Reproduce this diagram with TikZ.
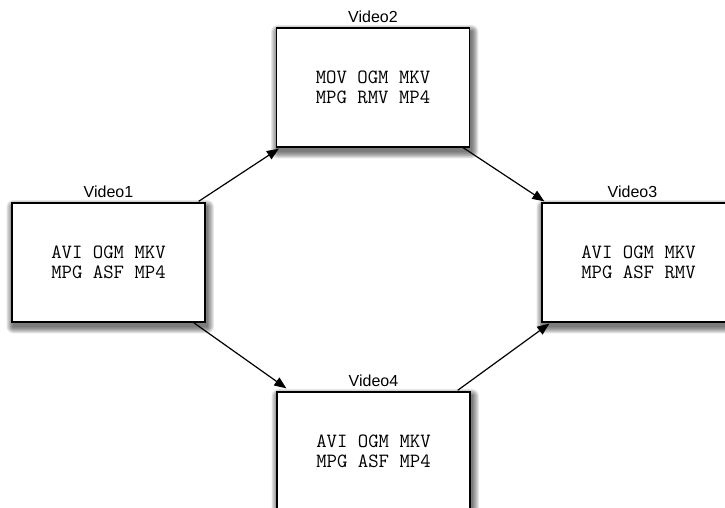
\documentclass[tikz,border=0pt]{standalone}
\usepackage{fontspec}
\setmainfont{Liberation Sans}
\usetikzlibrary{calc,arrows.meta,backgrounds}
\tikzset{
  vbox/.style={draw=black, line width=1.3pt, fill=white, minimum width=193pt, minimum height=119pt,
    inner sep=0pt, align=center, font=\ttfamily\fontsize{20.2}{20.5}\selectfont},
  vlabel/.style={font=\fontsize{16}{18}\selectfont, inner sep=0pt, anchor=base},
  conn/.style={line width=1.2pt, -{Triangle[length=12pt,width=9.5pt]}}
}
\newcommand\blurshadow[1]{%
  \foreach \k in {0,1,...,7}{%
    \fill[black,opacity=0.085,rounded corners=\k pt]
      ($(#1.south west)+(-\k*0.9+1.5,\k*0.9+4.5)$) rectangle ($(#1.north east)+(\k*0.9+2,-\k*0.9+4)$);
  }}
\begin{document}
\begin{tikzpicture}[x=1pt,y=-1pt]
\useasboundingbox (0,0) rectangle (725,508);
\node[vbox] (v1) at (108.5,262.5) {AVI OGM MKV\\MPG ASF MP4};
\node[vbox] (v2) at (373,87.5) {MOV OGM MKV\\MPG RMV MP4};
\node[vbox] (v3) at (638.5,262.5) {AVI OGM MKV\\MPG ASF RMV};
\node[vbox] (v4) at (373.5,451.5) {AVI OGM MKV\\MPG ASF MP4};
\node[vlabel] (l1) at ($(v1.north)+(0,-5)$) {Video1};
\node[vlabel] (l2) at ($(v2.north)+(0,-5)$) {Video2};
\node[vlabel] (l3) at ($(v3.north)+(-6,-5)$) {Video3};
\node[vlabel] (l4) at ($(v4.north)+(0,-5)$) {Video4};
\begin{scope}[on background layer]
  \blurshadow{v1}\blurshadow{v2}\blurshadow{v3}\blurshadow{v4}
\end{scope}
\draw[conn] ($(v1.north east)+(-7,-1)$) -- ($(v2.south west)+(3,1)$);
\draw[conn] ($(v2.south east)+(-7,0)$) -- ($(v3.north west)+(3,-1)$);
\draw[conn] ($(v1.south east)+(-12,0)$) -- ($(v4.north west)+(10,-3)$);
\draw[conn] ($(v4.north east)+(-13,-1)$) -- ($(v3.south west)+(8,1)$);
\end{tikzpicture}
\end{document}
